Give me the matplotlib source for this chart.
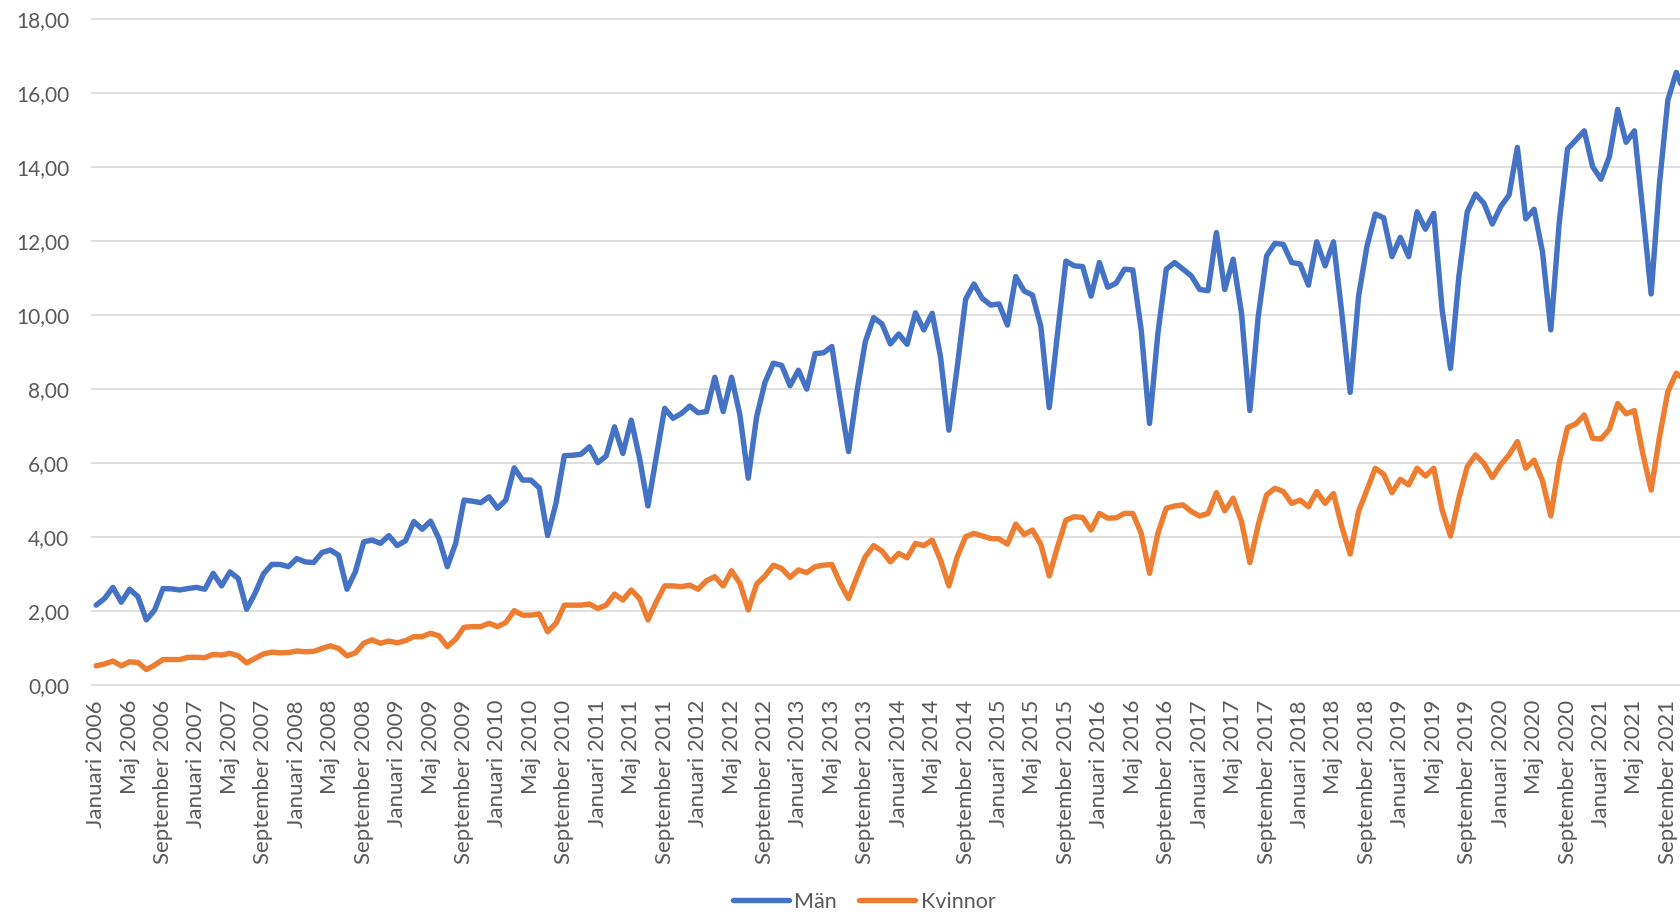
import matplotlib
matplotlib.use("Agg")
import matplotlib.pyplot as plt
from matplotlib.lines import Line2D

plt.rcParams['font.family'] = ['Lato', 'DejaVu Sans']

# Monthly series, Januari 2006 .. November 2021 (last point is cut by the frame)
MONTHS = ["Januari", "Februari", "Mars", "April", "Maj", "Juni", "Juli",
          "Augusti", "September", "Oktober", "November", "December"]
FIRST_YEAR = 2006

man = [
    2.15, 2.33, 2.63, 2.23, 2.58, 2.38, 1.75, 2.02, 2.60, 2.59, 2.56, 2.60,
    2.63, 2.58, 3.01, 2.67, 3.05, 2.87, 2.04, 2.47, 2.99, 3.25, 3.25, 3.19,
    3.41, 3.32, 3.30, 3.57, 3.64, 3.50, 2.58, 3.05, 3.86, 3.91, 3.82, 4.03,
    3.76, 3.89, 4.41, 4.20, 4.42, 3.95, 3.19, 3.82, 4.99, 4.96, 4.92, 5.08,
    4.77, 4.99, 5.86, 5.53, 5.53, 5.32, 4.03, 4.90, 6.19, 6.20, 6.23, 6.43,
    6.00, 6.18, 6.97, 6.25, 7.15, 6.12, 4.83, 6.16, 7.47, 7.20, 7.33, 7.53,
    7.35, 7.38, 8.31, 7.38, 8.31, 7.29, 5.58, 7.24, 8.17, 8.69, 8.63, 8.08,
    8.50, 7.99, 8.95, 8.97, 9.14, 7.69, 6.30, 7.92, 9.27, 9.92, 9.75, 9.21,
    9.48, 9.20, 10.05, 9.59, 10.04, 8.86, 6.88, 8.59, 10.42, 10.83, 10.44, 10.26,
    10.29, 9.72, 11.03, 10.64, 10.53, 9.68, 7.49, 9.50, 11.45, 11.32, 11.30, 10.50,
    11.41, 10.74, 10.85, 11.23, 11.21, 9.59, 7.06, 9.50, 11.23, 11.41, 11.23, 11.05,
    10.68, 10.65, 12.22, 10.68, 11.50, 10.04, 7.41, 9.95, 11.59, 11.93, 11.90, 11.41,
    11.37, 10.80, 11.97, 11.32, 11.97, 10.04, 7.90, 10.49, 11.84, 12.72, 12.62, 11.57,
    12.09, 11.57, 12.78, 12.31, 12.74, 10.13, 8.55, 11.03, 12.78, 13.26, 13.01, 12.45,
    12.92, 13.23, 14.52, 12.59, 12.85, 11.70, 9.59, 12.47, 14.48, 14.72, 14.97, 14.00,
    13.66, 14.27, 15.55, 14.66, 14.97, 12.80, 10.56, 13.55, 15.80, 16.55, 16.00,
]

kvinnor = [
    0.51, 0.56, 0.64, 0.51, 0.62, 0.60, 0.41, 0.53, 0.68, 0.68, 0.68, 0.74,
    0.74, 0.73, 0.82, 0.80, 0.85, 0.78, 0.59, 0.71, 0.83, 0.88, 0.86, 0.87,
    0.91, 0.89, 0.90, 0.98, 1.05, 0.98, 0.78, 0.86, 1.12, 1.21, 1.12, 1.18,
    1.13, 1.19, 1.30, 1.30, 1.39, 1.32, 1.03, 1.23, 1.55, 1.57, 1.57, 1.66,
    1.57, 1.68, 2.00, 1.88, 1.88, 1.91, 1.43, 1.66, 2.15, 2.15, 2.15, 2.18,
    2.06, 2.15, 2.45, 2.29, 2.56, 2.33, 1.75, 2.24, 2.67, 2.67, 2.65, 2.69,
    2.58, 2.81, 2.92, 2.67, 3.08, 2.74, 2.02, 2.72, 2.94, 3.23, 3.14, 2.90,
    3.10, 3.03, 3.19, 3.23, 3.25, 2.74, 2.33, 2.92, 3.46, 3.76, 3.61, 3.32,
    3.55, 3.43, 3.82, 3.76, 3.91, 3.37, 2.67, 3.46, 4.00, 4.09, 4.02, 3.95,
    3.94, 3.80, 4.34, 4.06, 4.18, 3.79, 2.94, 3.73, 4.45, 4.54, 4.52, 4.18,
    4.63, 4.50, 4.51, 4.63, 4.63, 4.09, 3.01, 4.09, 4.77, 4.83, 4.86, 4.68,
    4.56, 4.63, 5.19, 4.70, 5.04, 4.41, 3.30, 4.32, 5.13, 5.31, 5.22, 4.90,
    4.99, 4.81, 5.22, 4.90, 5.17, 4.27, 3.53, 4.68, 5.26, 5.85, 5.69, 5.19,
    5.55, 5.40, 5.85, 5.64, 5.85, 4.72, 4.02, 5.04, 5.89, 6.21, 5.98, 5.60,
    5.94, 6.21, 6.57, 5.85, 6.07, 5.51, 4.56, 5.98, 6.95, 7.05, 7.29, 6.66,
    6.64, 6.90, 7.60, 7.32, 7.41, 6.25, 5.26, 6.70, 7.92, 8.42, 8.25,
]

yticks = [0, 2, 4, 6, 8, 10, 12, 14, 16, 18]

BLUE = "#4472C4"
ORANGE = "#ED7D31"
GREY_TXT = "#595959"
GRID = "#d9d9d9"

n = len(man)
x = list(range(n))
labels = [f"{MONTHS[i % 12]} {FIRST_YEAR + i // 12}" for i in x]

W, H = 1681, 914
fig = plt.figure(figsize=(W / 100, H / 100), dpi=100)
# plot area in pixels: left 92, y=0 at 684.7, y=18 at 18.7, 8.36 px per month
px_month = 8.36
ax = fig.add_axes([92 / W, (H - 684.7) / H, (W - 92) / W, (684.7 - 18.7) / H])

ax.plot(x, man, color=BLUE, lw=3.9, solid_joinstyle="round", solid_capstyle="round")
ax.plot(x, kvinnor, color=ORANGE, lw=3.9, solid_joinstyle="round", solid_capstyle="round")

ax.set_xlim(-0.5, -0.5 + (W - 92) / px_month)
ax.set_ylim(0, 18)
ax.set_yticks(yticks)
ax.set_yticklabels([f"{v:.2f}".replace(".", ",") for v in yticks])
ax.set_xticks(x[::4])
ax.set_xticklabels(labels[::4], rotation=90)

ax.yaxis.grid(True, color=GRID, lw=1.2)
ax.set_axisbelow(True)
for gl in ax.get_ygridlines():
    gl.set_clip_on(False)
for s in ax.spines.values():
    s.set_visible(False)

ax.tick_params(axis="y", length=0, pad=16.5, labelsize=15, labelcolor=GREY_TXT)
ax.tick_params(axis="x", length=0, pad=11, labelsize=16, labelcolor=GREY_TXT)

handles = [Line2D([], [], color=BLUE, lw=3.9, solid_capstyle="round"),
           Line2D([], [], color=ORANGE, lw=3.9, solid_capstyle="round")]
fig.legend(handles, ["Män", "Kvinnor"], loc="center",
           bbox_to_anchor=(864 / W, 1 - 901.7 / H), ncol=2, frameon=False,
           fontsize=15.5, labelcolor=GREY_TXT, handlelength=2.6,
           handletextpad=0.25, columnspacing=1.05)

fig.savefig("out.png", dpi=100)
